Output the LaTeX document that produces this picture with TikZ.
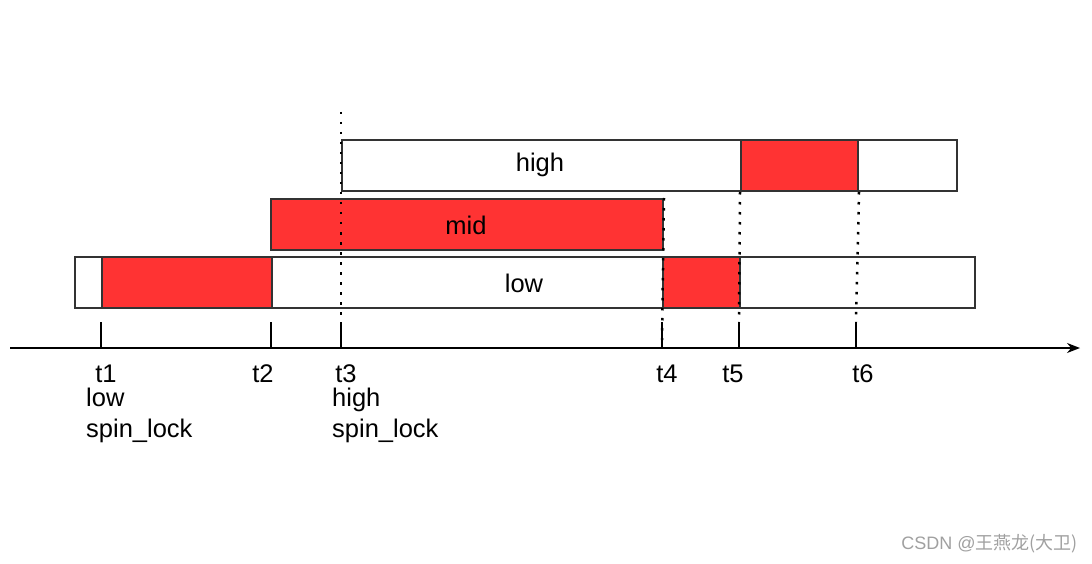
\documentclass[tikz,border=0pt]{standalone}
\usepackage{fontspec}
\setmainfont{Liberation Sans}
\newfontfamily\cjk{Noto Sans CJK SC}
\usetikzlibrary{positioning,arrows.meta,calc}
\definecolor{lockred}{HTML}{FF3333}
\definecolor{edge}{HTML}{333333}
\definecolor{markgray}{HTML}{A0A0A0}
\tikzset{
  bar/.style={draw=edge, line width=2pt, fill=white, anchor=north west,
    inner sep=0pt, minimum height=51pt},
  busy/.style={bar, fill=lockred},
  lab/.style={font=\fontsize{25.5pt}{31pt}\selectfont, text=black, inner sep=0pt},
  tickline/.style={line width=1.5pt, draw=black},
  dots/.style={line width=2.5pt, dash pattern=on 2.5pt off 7.5pt},
  arr/.style={-{Stealth[length=13pt,width=10pt]}, line width=1.5pt},
}

\begin{document}
\begin{tikzpicture}[x=1pt, y=-1pt]
    \useasboundingbox (0,0) rectangle (1092,564);
    % 三个任务的执行条
    \node[bar, minimum width=900pt] (low) at (74,256) {};
    \node[busy, minimum width=170pt] (lowcs1) at (101,256) {};
    \node[busy, minimum width=77pt] (lowcs2) at (662,256) {};
    \node[busy, minimum width=392pt] (mid) at (270,198) {};
    \node[bar, minimum width=615pt] (high) at (341,139) {};
    \node[busy, minimum width=117pt] (highcs) at (740,139) {};
    \node[lab] (lowname) at (524,283) {low};
    \node[lab] (midname) at (466,225) {mid};
    \node[lab] (highname) at (540,165) {high};
    % 时间轴
    \coordinate (origin) at (10,348);
    \coordinate (axisend) at (1080,348);
    \draw[arr] (origin) -- (axisend);
    \foreach \x/\n/\dx in {101/1/5, 271/2/-8, 341/3/5, 662/4/5, 739/5/-6, 856/6/7} {
      \coordinate (tk\n) at (\x,322);
      \draw[tickline] (tk\n) -- (tk\n |- origin);
      \node[lab, anchor=base] (t\n) at (\x+\dx,382) {t\n};
    }
    % 虚线
    \coordinate (top3) at (341,112);
    \draw[dots] (top3) -- (tk3);
    \draw[dots] (mid.north east) -- ($(tk4)+(0,18)$);
    \draw[dots] (highcs.south west) -- (tk5);
    \draw[dots] (highcs.south east) -- (tk6);
    \node[lab, align=left, anchor=base west] (lowlock) at (86,437) {low\\spin\_lock};
    \node[lab, align=left, anchor=base west] (highlock) at (332,437) {high\\spin\_lock};
    \node[font=\fontsize{18pt}{21pt}\selectfont, text=markgray, anchor=east, inner sep=0pt]
      (csdn) at (1078,544) {CSDN @{\cjk 王燕龙(大卫)}};
  \end{tikzpicture}
\end{document}
